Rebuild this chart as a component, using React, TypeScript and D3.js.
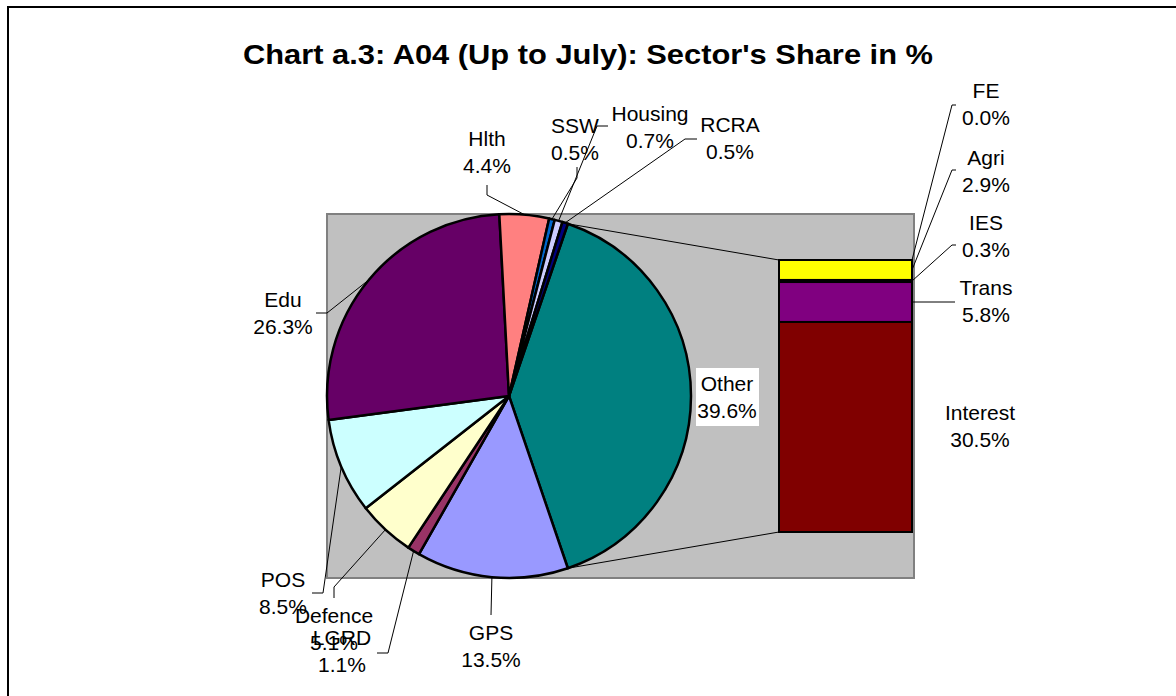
import React from 'react';
import * as d3 from 'd3';

// primary pie, clockwise starting with the "Other" slice
const pieLabels = ['Other', 'GPS', 'LGRD', 'Defence', 'POS', 'Edu', 'Hlth', 'SSW', 'Housing', 'RCRA'];
const pieValues = [39.6, 13.5, 1.1, 5.1, 8.5, 26.3, 4.4, 0.5, 0.7, 0.5];
const pieColors = ['#008080', '#9999FF', '#993366', '#FFFFCC', '#CCFFFF', '#660066', '#FF8080', '#0066CC', '#CCCCFF', '#000080'];

// secondary stacked bar, top to bottom
const barLabels = ['FE', 'Agri', 'IES', 'Trans', 'Interest'];
const barValues = [0.0, 2.9, 0.3, 5.8, 30.5];
const barColors = ['#FFFF00', '#FFFF00', '#000000', '#800080', '#800000'];

const W = 1176;
const H = 696;
const font = 'Arial, "Liberation Sans", sans-serif';

const cx = 509;
const cy = 396;
const R = 182;
const plot = { x: 327, y: 214, w: 587, h: 364 };
const bar = { x0: 779, x1: 912, y0: 260, y1: 532 };

// label placement: center x, first baseline, leader anchor & elbow
const pieLabelPos: Record<string, { x: number; y: number; a?: number[]; e?: number[] }> = {
  Other: { x: 727, y: 391 },
  GPS: { x: 491, y: 640, a: [491, 615], e: [491, 615] },
  LGRD: { x: 342, y: 645, a: [377, 653], e: [388, 653] },
  Defence: { x: 334, y: 623, a: [334, 598], e: [334, 587] },
  POS: { x: 283, y: 587, a: [312, 593], e: [323, 593] },
  Edu: { x: 283, y: 307, a: [316, 313], e: [327, 313] },
  Hlth: { x: 487, y: 146, a: [487, 185], e: [487, 195] },
  SSW: { x: 575, y: 133, a: [577, 167], e: [577, 178] },
  Housing: { x: 650, y: 121, a: [608, 126], e: [597, 126] },
  RCRA: { x: 730, y: 132, a: [697, 139], e: [685, 139] },
};
const barLabelPos: Record<string, { x: number; y: number; a?: number[]; e?: number[] }> = {
  FE: { x: 986, y: 98, a: [956, 105], e: [952, 105] },
  Agri: { x: 986, y: 165, a: [956, 170], e: [952, 170] },
  IES: { x: 986, y: 230, a: [956, 245], e: [952, 245] },
  Trans: { x: 986, y: 295, a: [955, 302], e: [955, 302] },
  Interest: { x: 980, y: 420 },
};

const LINE = 27;
const LABEL_SIZE = 21;

export default function App() {
  const total = d3.sum(pieValues);
  const otherAngle = (pieValues[0] / total) * 2 * Math.PI;
  const start = Math.PI / 2 - otherAngle / 2;

  const arcs = d3.pie<number>().sort(null).value(d => d)
    .startAngle(start).endAngle(start + 2 * Math.PI)(pieValues);
  const arcGen = d3.arc<d3.PieArcDatum<number>>().innerRadius(0).outerRadius(R);

  const onCircle = (ang: number) => [cx + R * Math.sin(ang), cy - R * Math.cos(ang)];

  const y = d3.scaleLinear().domain([0, d3.sum(barValues)]).range([bar.y0, bar.y1]);
  const stacked = barValues.map((v, i) => {
    const before = d3.sum(barValues.slice(0, i));
    return { label: barLabels[i], top: y(before), bottom: y(before + v), color: barColors[i] };
  });

  const otherArc = arcs[0];
  const connTop = onCircle(otherArc.startAngle);
  const connBot = onCircle(otherArc.endAngle);

  const pct = (v: number) => v.toFixed(1) + '%';

  return (
    <svg width={W} height={H} style={{ position: 'absolute', left: 0, top: 0, background: '#fff' }}>
      {/* chart frame */}
      <rect x={8} y={7} width={W + 20} height={H + 20} fill="#fff" stroke="#000" strokeWidth={2} />

      <text x={588} y={64} textAnchor="middle" fontFamily={font} fontWeight="bold" fontSize={27}
        textLength={690} lengthAdjust="spacingAndGlyphs">
        Chart a.3: A04 (Up to July): Sector's Share in %
      </text>

      {/* plot area */}
      <rect x={plot.x} y={plot.y} width={plot.w} height={plot.h} fill="#C0C0C0" stroke="#808080" strokeWidth={2} />

      {/* connectors between pie and bar */}
      <line x1={connTop[0]} y1={connTop[1]} x2={bar.x0} y2={bar.y0} stroke="#000" strokeWidth={1} />
      <line x1={connBot[0]} y1={connBot[1]} x2={bar.x0} y2={bar.y1} stroke="#000" strokeWidth={1} />

      {/* pie */}
      <g transform={`translate(${cx},${cy})`}>
        {arcs.map((a, i) => (
          <path key={pieLabels[i]} d={arcGen(a) || ''} fill={pieColors[i]} stroke="#000" strokeWidth={2.5} strokeLinejoin="round" />
        ))}
      </g>

      {/* secondary bar */}
      {stacked.map(s => (
        <rect key={s.label} x={bar.x0} y={s.top} width={bar.x1 - bar.x0} height={Math.max(0, s.bottom - s.top)}
          fill={s.color} stroke="#000" strokeWidth={2} />
      ))}

      {/* pie leader lines */}
      {arcs.map((a, i) => {
        const p = pieLabelPos[pieLabels[i]];
        if (!p.a || !p.e) return null;
        const mid = onCircle((a.startAngle + a.endAngle) / 2);
        return (
          <polyline key={'l' + i} points={`${p.a[0]},${p.a[1]} ${p.e[0]},${p.e[1]} ${mid[0]},${mid[1]}`}
            fill="none" stroke="#000" strokeWidth={1} />
        );
      })}

      {/* bar leader lines */}
      {stacked.map(s => {
        const p = barLabelPos[s.label];
        if (!p.a || !p.e) return null;
        const ty = (s.top + s.bottom) / 2;
        return (
          <polyline key={'bl' + s.label} points={`${p.a[0]},${p.a[1]} ${p.e[0]},${p.e[1]} ${bar.x1},${ty}`}
            fill="none" stroke="#000" strokeWidth={1} />
        );
      })}

      {/* Other label box */}
      <rect x={696} y={368} width={63} height={58} fill="#fff" />

      {/* pie labels */}
      {pieLabels.map((l, i) => {
        const p = pieLabelPos[l];
        return (
          <text key={'t' + l} x={p.x} y={p.y} textAnchor="middle" fontFamily={font} fontSize={LABEL_SIZE} fill="#000">
            <tspan x={p.x}>{l}</tspan>
            <tspan x={p.x} dy={LINE}>{pct(pieValues[i])}</tspan>
          </text>
        );
      })}

      {/* bar labels */}
      {barLabels.map((l, i) => {
        const p = barLabelPos[l];
        return (
          <text key={'bt' + l} x={p.x} y={p.y} textAnchor="middle" fontFamily={font} fontSize={LABEL_SIZE} fill="#000">
            <tspan x={p.x}>{l}</tspan>
            <tspan x={p.x} dy={LINE}>{pct(barValues[i])}</tspan>
          </text>
        );
      })}
    </svg>
  );
}
